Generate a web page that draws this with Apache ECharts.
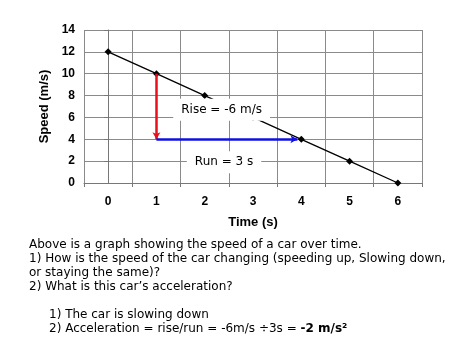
<!DOCTYPE html>
<html><head><meta charset="utf-8">
<script src="https://cdn.jsdelivr.net/npm/echarts@6/dist/echarts.min.js"></script>
<style>html,body{margin:0;padding:0;background:#fff}#c{width:474px;height:355px}</style>
</head><body><div id="c"></div>
<script>
var times = [0, 1, 2, 3, 4, 5, 6];
var speeds = [12, 10, 8, 6, 4, 2, 0];
var xTickValues = [-0.5, 0.5, 1.5, 2.5, 3.5, 4.5, 5.5, 6.5];
var riseArrow = [[1, 10], [1, 4]];
var runArrow = [[1, 4], [3.92, 4]];
var annotationTexts = ['Rise = -6 m/s', 'Run = 3 s'];
var annotationX = [2.35, 2.4];
var annotationY = [6.7, 1.9];
var textLines = [
  'Above is a graph showing the speed of a car over time.',
  '1) How is the speed of the car changing (speeding up, Slowing down,',
  'or staying the same)?',
  '2) What is this car\u2019s acceleration?'
];
var answerLines = [
  '1) The car is slowing down',
  '2) Acceleration = rise/run = -6m/s \u00f73s = '
];
var answerBold = '-2 m/s\u00b2';

var chart = echarts.init(document.getElementById('c'), null, {renderer: 'canvas'});
var axisFont = {fontFamily: 'Liberation Sans, Arial', fontWeight: 'bold', fontSize: 12, color: '#000'};
var gridLine = {show: true, lineStyle: {color: '#8a8a8a', width: 1}};
var bodyFont = 'DejaVu Sans, Verdana, sans-serif';

var graphics = [];
textLines.forEach(function (t, i) {
  graphics.push({type: 'text', left: 29, top: 239 + i * 14,
    style: {text: t, font: '12px ' + bodyFont, fill: '#000'}});
});
graphics.push({type: 'text', left: 49, top: 309,
  style: {text: answerLines[0], font: '12px ' + bodyFont, fill: '#000'}});
graphics.push({type: 'text', left: 49, top: 323,
  style: {rich: {n: {font: '12px ' + bodyFont, fill: '#000'}, b: {font: 'bold 12px ' + bodyFont, fill: '#000'}},
    text: '{n|' + answerLines[1] + '}{b|' + answerBold + '}'}});

chart.setOption({
  animation: false,
  grid: {left: 84, right: 52, top: 30, bottom: 172, show: false},
  xAxis: {
    type: 'value', min: -0.5, max: 6.5, interval: 0.5,
    name: 'Time (s)', nameLocation: 'middle', nameGap: 33,
    nameTextStyle: {fontFamily: 'Liberation Sans, Arial', fontWeight: 'bold', fontSize: 13, color: '#000'},
    axisLine: {show: true, lineStyle: {color: '#777', width: 1}},
    axisTick: {show: true, length: 4, customValues: xTickValues, lineStyle: {color: '#777'}},
    axisLabel: Object.assign({margin: 13, customValues: times}, axisFont),
    splitLine: gridLine
  },
  yAxis: {
    type: 'value', min: 0, max: 14, interval: 2,
    name: 'Speed (m/s)', nameLocation: 'middle', nameGap: 30, nameRotate: 90,
    nameTextStyle: {fontFamily: 'Liberation Sans, Arial', fontWeight: 'bold', fontSize: 13, color: '#000'},
    axisLine: {show: true, lineStyle: {color: '#777', width: 1}},
    axisTick: {show: true, length: 4, lineStyle: {color: '#777'}},
    axisLabel: Object.assign({margin: 9}, axisFont),
    splitLine: gridLine
  },
  series: [
    {
      type: 'line', data: times.map(function (t, i) { return [t, speeds[i]]; }),
      symbol: 'diamond', symbolSize: 7, showSymbol: true,
      lineStyle: {color: '#000', width: 1.3}, itemStyle: {color: '#000'}, z: 3,
      markLine: {
        silent: true, symbol: ['none', 'arrow'], symbolSize: [6, 7],
        label: {show: false},
        data: [
          [{coord: riseArrow[0], lineStyle: {color: '#e8101a', width: 2.5, type: 'solid'}}, {coord: riseArrow[1]}],
          [{coord: runArrow[0], lineStyle: {color: '#1010e0', width: 2.5, type: 'solid'}}, {coord: runArrow[1]}]
        ]
      }
    },
    {
      type: 'custom', z: 20, silent: true,
      data: annotationTexts.map(function (t, i) { return [annotationX[i], annotationY[i], t]; }),
      renderItem: function (params, api) {
        var p = api.coord([api.value(0), api.value(1)]);
        return {
          type: 'text', x: p[0], y: p[1], z2: 100,
          style: {text: annotationTexts[params.dataIndex], align: 'center', verticalAlign: 'middle',
            font: '12px ' + bodyFont, fill: '#000', backgroundColor: '#fff', padding: [5, 8, 5, 8]}
        };
      }
    }
  ],
  graphic: graphics
});
</script></body></html>
